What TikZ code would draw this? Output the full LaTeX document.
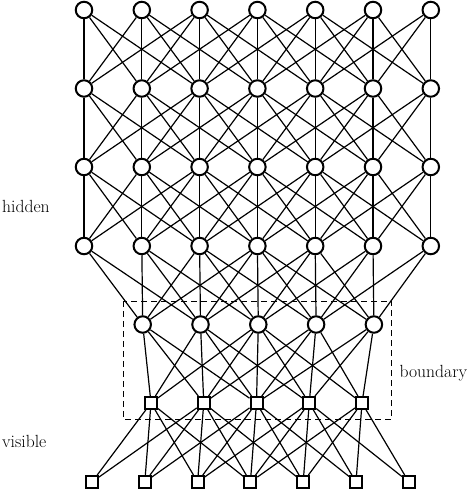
\documentclass[tikz,border=0pt]{standalone}
\begin{document}
\begin{tikzpicture}[x=1pt,y=-1pt,
  hid/.style={circle,draw,line width=2pt,fill=white,minimum size=16.5pt,inner sep=0pt},
  vis/.style={rectangle,draw,line width=2pt,fill=white,minimum size=12pt,inner sep=0pt},
  edge/.style={line width=1.2pt},
  lab/.style={anchor=base west,inner sep=0pt,font=\fontsize{17.6}{21}\selectfont},
  bbox/.style={line width=1pt,dash pattern=on 6pt off 4pt}]
\useasboundingbox (0,0) rectangle (476,490);
% boundary box
\draw[bbox] (123.3,301) rectangle (391.7,419.3);
% hidden rows of 7
\foreach \r/\y in {1/10,2/88.5,3/167,4/246}{
  \foreach \i in {1,...,7}{
    \node[hid] (h\r-\i) at ({84+57.8*(\i-1)},\y) {};
  }
}
% boundary hidden row of 5
\foreach \k in {1,...,5}{
  \node[hid] (b-\k) at ({142.7+57.8*(\k-1)},324.5) {};
}
% boundary visible row of 5
\foreach \k in {1,...,5}{
  \node[vis] (s-\k) at ({151+52.75*(\k-1)},403) {};
}
% visible row of 7
\foreach \j in {1,...,7}{
  \node[vis] (v-\j) at ({92+52.8*(\j-1)},482) {};
}
% edges between rows of 7
\foreach \r in {1,2,3}{
  \pgfmathtruncatemacro{\rr}{\r+1}
  \foreach \i in {1,...,7}{
    \foreach \d in {-2,...,2}{
      \pgfmathtruncatemacro{\j}{\i+\d}
      \ifnum\j>0 \ifnum\j<8
        \draw[edge] (h\r-\i) -- (h\rr-\j);
      \fi\fi
    }
  }
}
% row 4 to boundary hidden
\foreach \k in {1,...,5}{
  \foreach \d in {-2,...,2}{
    \pgfmathtruncatemacro{\i}{\k+1+\d}
    \ifnum\i>0 \ifnum\i<8
      \draw[edge] (h4-\i) -- (b-\k);
    \fi\fi
  }
}
% boundary hidden to boundary visible
\foreach \k in {1,...,5}{
  \foreach \d in {-2,...,2}{
    \pgfmathtruncatemacro{\m}{\k+\d}
    \ifnum\m>0 \ifnum\m<6
      \draw[edge] (b-\k) -- (s-\m);
    \fi\fi
  }
}
% boundary visible to visible
\foreach \k in {1,...,5}{
  \foreach \d in {-2,...,2}{
    \pgfmathtruncatemacro{\j}{\k+1+\d}
    \ifnum\j>0 \ifnum\j<8
      \draw[edge] (s-\k) -- (v-\j);
    \fi\fi
  }
}
% labels
\node[lab] (lh) at (2,212) {hidden};
\node[lab] (lv) at (2,447.5) {visible};
\node[lab] (lb) at (399.5,377.5) {boundary};
\end{tikzpicture}
\end{document}
